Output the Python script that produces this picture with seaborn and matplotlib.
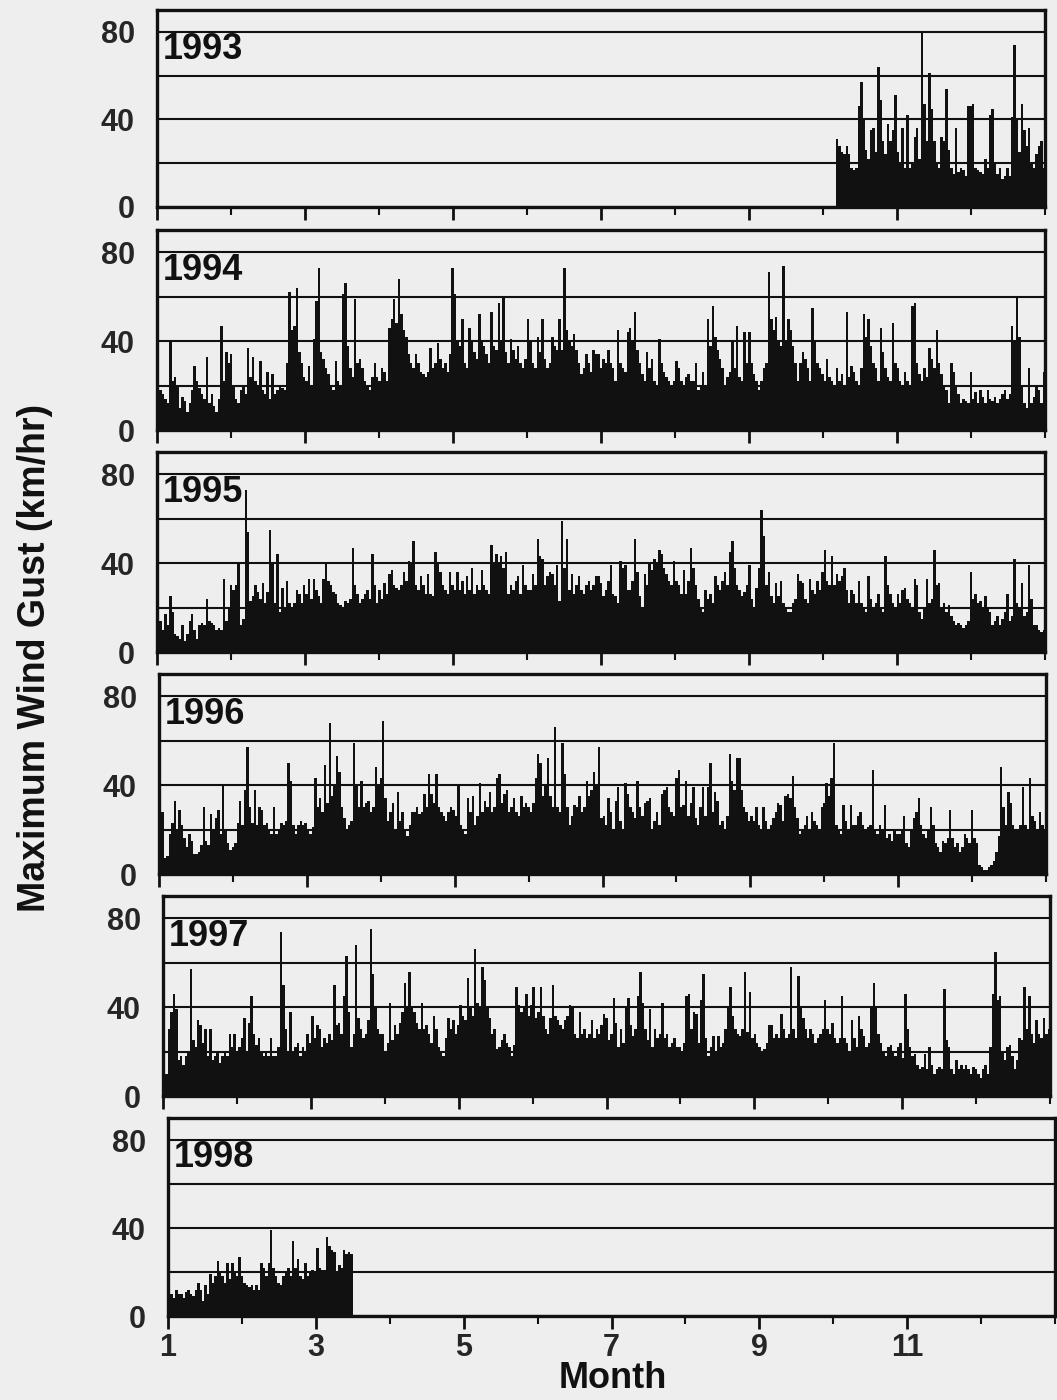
import numpy as np
import pandas as pd
import matplotlib
matplotlib.use("Agg")
import matplotlib.pyplot as plt
from matplotlib.ticker import FixedLocator
import seaborn as sns

# ---------------- data (daily maximum wind gust, km/hr) ----------------
years = [1993, 1994, 1995, 1996, 1997, 1998]
start_dates = ["1993-10-07", "1994-01-01", "1995-01-01", "1996-01-01", "1997-01-01", "1998-01-01"]

gust_1993 = (
    [31,28,25,24,28,24,18,17,18,46,57,40,26,22,35,36,25,64,49,30,24,38,30,35,51] +             # Oct 7-31
    [25,20,36,18,42,18,20,32,36,22,80,47,30,61,45,30,20,18,32,30,54,26,18,15,36,16,18,17,14,46] +  # Nov
    [46,47,18,17,16,15,22,18,42,45,20,15,18,13,14,18,14,41,74,40,25,47,35,28,36,20,18,24,28,30,18]  # Dec
)

gust_1994 = (
    [19,18,16,14,12,40,22,24,20,10,15,13,8,12,18,29,22,19,16,14,33,12,16,11,8,14,47,22,35,30,34] +
    [20,14,12,18,20,16,37,24,33,22,20,31,18,16,26,14,25,16,18,20,19,18,30,62,45,47,64,35] +
    [30,24,22,29,20,41,58,73,35,32,28,25,20,18,31,22,20,61,66,38,28,24,59,30,32,28,22,20,18,24,30] +
    [24,22,28,26,22,46,50,59,48,68,52,45,42,34,30,28,34,30,26,25,24,26,37,28,30,39,32,28,30,26] +
    [34,73,61,40,38,50,30,28,46,40,35,32,52,40,38,34,30,53,38,36,57,40,60,35,30,41,36,32,38,30,28] +
    [32,50,40,30,28,42,35,50,32,28,30,42,38,36,50,36,73,45,40,38,43,36,30,25,28,34,30,26,36,34] +
    [34,28,32,30,36,30,28,22,45,30,28,26,44,46,40,53,36,30,25,22,35,28,32,22,20,41,30,26,24,22,20] +
    [22,31,28,22,20,24,25,22,22,30,18,20,26,20,50,38,56,42,36,32,28,20,24,26,40,28,47,24,22,44,30] +
    [44,30,25,22,18,22,28,30,71,50,45,51,40,38,74,40,50,45,38,30,22,30,35,32,28,22,55,40,30,28] +
    [25,22,32,24,22,20,28,22,25,20,53,24,29,26,22,20,28,52,42,50,38,30,28,22,46,35,28,24,22,48,30] +
    [28,22,20,26,22,20,56,57,30,25,22,28,24,37,32,28,45,30,25,20,18,12,30,26,20,16,12,14,13,12] +
    [26,14,17,12,18,15,12,18,14,13,15,12,14,16,18,14,16,47,40,60,42,20,12,10,28,12,15,20,18,12,26]
)

gust_1995 = (
    [11,14,10,17,12,25,18,8,7,6,12,5,8,14,17,10,6,12,13,12,24,14,13,12,10,11,10,33,14,20,30] +
    [28,30,40,12,15,73,54,23,25,30,27,24,31,22,27,55,40,22,44,18,29,20,32,22,20,22,28,26] +
    [22,30,26,33,24,33,28,25,22,33,40,32,30,27,26,22,21,20,23,22,24,47,30,26,22,24,26,28,24,44,30] +
    [22,28,24,31,26,35,37,30,29,28,30,36,32,41,40,50,30,28,34,30,26,35,26,25,45,40,36,30,28,26] +
    [36,30,28,36,28,32,26,34,28,38,26,30,28,37,30,28,26,48,40,44,40,43,38,45,26,30,28,32,34,26,39] +
    [30,28,28,35,30,51,43,42,30,34,36,35,30,39,23,59,38,51,28,35,26,30,34,28,26,30,32,28,30,34] +
    [34,31,25,28,32,39,26,25,22,41,38,39,28,28,32,51,36,25,20,35,30,40,37,42,40,46,44,38,35,32,30] +
    [41,32,30,26,37,26,32,47,38,30,24,20,18,28,24,26,22,34,30,28,32,36,30,45,50,38,30,28,25,27,30] +
    [39,24,20,29,38,64,52,30,36,25,22,31,25,32,22,20,18,18,22,24,35,32,31,24,22,33,28,26,32,28] +
    [36,46,32,30,43,30,35,32,34,38,28,22,28,26,22,32,22,20,18,34,24,20,22,26,20,18,43,30,26,22,20] +
    [26,22,28,29,24,22,20,33,30,18,15,20,33,22,24,46,30,31,20,22,18,21,16,14,12,13,12,11,12,14] +
    [36,24,26,22,23,20,25,20,18,12,14,16,12,15,18,26,14,16,42,22,20,31,16,18,39,24,12,12,10,9,10]
)

gust_1996 = (
    [34,28,7,8,18,23,33,20,29,22,16,12,18,15,9,9,10,13,30,15,13,27,20,25,29,18,40,20,14,11,12] +
    [14,23,33,22,38,57,30,23,38,22,30,29,22,23,20,18,30,18,20,23,22,24,50,42,22,18,22,24,22] +
    [23,20,18,21,43,30,34,28,49,32,68,35,40,53,46,30,25,20,22,24,59,40,30,42,30,32,33,28,30,48,40] +
    [43,69,34,24,28,32,20,37,24,28,20,17,22,28,28,30,27,28,36,30,45,36,32,45,30,28,26,24,28,30] +
    [29,26,40,22,20,18,34,28,35,22,26,41,28,33,30,37,28,30,43,45,32,36,38,28,30,34,28,26,35,30,32] +
    [30,28,32,43,54,50,35,40,52,35,30,66,30,28,59,45,30,22,26,31,30,35,28,30,42,35,38,46,40,57] +
    [25,26,22,34,28,20,33,39,24,20,41,36,30,28,25,42,30,26,32,33,34,20,24,28,22,36,38,39,30,28,26] +
    [43,47,30,31,42,26,32,39,25,22,30,39,26,39,50,28,37,33,22,24,20,26,54,42,38,52,52,38,30,28,24] +
    [26,24,30,22,20,30,24,20,22,25,28,32,31,24,35,36,34,44,30,25,18,20,22,26,20,28,24,22,20,30] +
    [32,41,35,43,59,22,20,18,31,24,20,31,22,22,26,28,22,20,21,22,47,20,18,22,20,31,16,18,15,20,18] +
    [18,20,26,14,12,20,25,28,34,22,18,16,20,30,22,14,12,10,15,14,16,29,16,12,14,10,12,18,16,14] +
    [29,16,14,4,3,2,2,3,4,6,10,17,48,30,22,37,32,22,20,20,22,39,22,20,43,26,24,20,28,22,20]
)

gust_1997 = (
    [13,10,30,38,46,39,16,18,14,18,20,57,25,22,34,32,24,30,18,30,16,18,20,15,18,20,18,28,22,28,20] +
    [22,26,35,20,33,45,28,23,26,20,18,20,18,26,18,18,22,74,50,30,20,38,20,22,24,18,22,20] +
    [28,24,36,26,32,30,22,26,24,28,25,50,32,33,28,45,63,38,22,28,68,35,30,26,28,34,75,55,40,30,28] +
    [28,20,24,42,25,32,28,33,38,51,40,56,40,38,33,30,42,30,32,28,24,36,30,22,20,18,26,35,30,34] +
    [28,32,41,36,34,53,40,36,66,42,40,58,52,40,35,28,30,21,22,25,28,24,22,18,23,49,41,38,40,46,36] +
    [41,49,35,38,49,36,30,28,35,50,36,34,32,30,34,36,41,40,28,26,38,28,30,26,28,34,26,30,28,32] +
    [37,35,25,28,44,33,22,30,24,40,44,32,27,30,45,56,42,30,25,39,22,30,26,28,42,26,28,22,24,26,22] +
    [22,20,24,45,46,30,38,37,24,43,55,26,18,22,27,20,27,22,24,30,40,49,36,30,28,27,30,56,29,47,26] +
    [28,24,22,20,21,24,32,32,26,28,26,37,30,26,28,58,30,26,54,40,35,30,26,30,28,24,26,28,30,43] +
    [30,28,33,26,24,26,45,26,24,20,34,26,22,36,30,27,22,24,40,51,40,28,24,20,18,22,23,20,18,22,24] +
    [17,46,30,22,18,19,14,12,13,19,12,22,14,10,12,13,12,48,25,22,12,10,16,12,14,12,14,12,10,13] +
    [12,10,8,12,14,10,22,46,65,43,45,20,16,22,23,18,12,16,26,25,49,30,45,28,24,34,28,26,35,28,30]
)

gust_1998 = (
    [9,10,8,12,10,10,8,11,12,10,9,12,15,12,7,14,10,19,15,18,25,20,18,15,24,17,24,20,18,27,18] +
    [15,14,13,14,12,14,12,24,22,18,24,39,22,18,15,14,18,20,22,18,34,22,26,18,17,24,18,20] +
    [21,20,31,22,21,21,36,32,30,29,20,23,22,30,28,29,28]   # Mar 1-17
)

series = [gust_1993, gust_1994, gust_1995, gust_1996, gust_1997, gust_1998]

month_major = [1, 3, 5, 7, 9, 11]
month_minor = [2, 4, 6, 8, 10, 12, 13]
y_ticks = [0, 20, 40, 60, 80]
y_labels = ["0", "", "40", "", "80"]

# ---------------- layout (pixel boxes of each panel: left, top, right, bottom) ----------------
W, H = 1057, 1400
boxes = [
    (157, 10, 1045, 207),
    (157, 230, 1045, 430),
    (157, 452, 1045, 652),
    (159, 674, 1046, 874),
    (163, 896, 1050, 1096),
    (168, 1118, 1055, 1316),
]

sns.set_theme(style="white")
plt.rcParams["font.family"] = ["Liberation Sans", "DejaVu Sans"]
plt.rcParams["font.weight"] = "bold"

BG = "#eeeeee"
fig = plt.figure(figsize=(W / 100, H / 100), dpi=100, facecolor=BG)

for i, (yr, start, vals, box) in enumerate(zip(years, start_dates, series, boxes)):
    l, t, r, b = box
    ax = fig.add_axes([l / W, 1 - b / H, (r - l) / W, (b - t) / H])
    ax.set_facecolor(BG)

    dates = pd.date_range(start, periods=len(vals), freq="D")
    ndays = 366 if yr % 4 == 0 else 365
    xpos = 1 + (dates.dayofyear.values - 0.5) * 12.0 / ndays
    df = pd.DataFrame({"month": xpos, "gust": vals})

    sns.barplot(data=df, x="month", y="gust", native_scale=True, color="#111111",
                saturation=1, errorbar=None, width=1.0, linewidth=0, ax=ax, zorder=2)

    ax.set_xlim(1, 13)
    ax.set_ylim(0, 90)
    ax.set_yticks(y_ticks)
    ax.set_yticklabels(y_labels)
    ax.yaxis.grid(True, color="#111111", linewidth=1.5, zorder=1)
    ax.xaxis.grid(False)
    ax.set_axisbelow(True)
    ax.tick_params(axis="y", length=0, pad=16, labelsize=22)
    for lab in ax.get_yticklabels():
        lab.set_fontweight("bold")

    ax.xaxis.set_major_locator(FixedLocator(month_major))
    ax.xaxis.set_minor_locator(FixedLocator(month_minor))
    ax.tick_params(axis="x", which="major", direction="out", length=9, width=2,
                   color="#111111", bottom=True)
    ax.tick_params(axis="x", which="minor", direction="out", length=6, width=1.5,
                   color="#111111", bottom=True)
    if i == len(years) - 1:
        ax.set_xticklabels([str(m) for m in month_major])
        ax.tick_params(axis="x", which="major", labelsize=22, pad=3)
        for lab in ax.get_xticklabels():
            lab.set_fontweight("bold")
            lab.set_family(["Liberation Sans Narrow", "Liberation Sans", "DejaVu Sans"])
    else:
        ax.set_xticklabels([])
    ax.set_xlabel("")
    ax.set_ylabel("")

    for sp in ax.spines.values():
        sp.set_visible(True)
        sp.set_color("#111111")
        sp.set_linewidth(2.4)

    ax.text(0.006, 0.80, str(yr), transform=ax.transAxes, ha="left", va="center",
            fontsize=26, fontweight="bold", color="#111111", zorder=5)

fig.text(0.033, 0.53, "Maximum Wind Gust (km/hr)", rotation=90, ha="center", va="center",
         fontsize=27, fontweight="bold", color="#111111")
fig.text(0.58, 0.003, "Month", ha="center", va="bottom", fontsize=26,
         fontweight="bold", color="#111111")

fig.savefig("out.png", dpi=100, facecolor=BG)
